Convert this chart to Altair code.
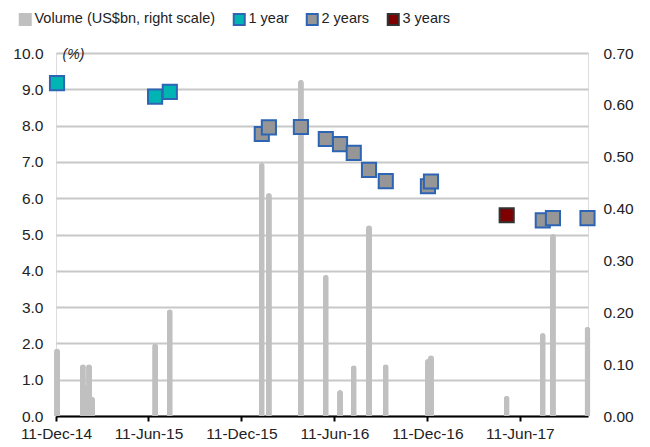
import altair as alt
import pandas as pd

# ---- data ----
dates = ["2014-12-13", "2015-02-02", "2015-02-06", "2015-02-14", "2015-02-20",
         "2015-06-24", "2015-07-23", "2016-01-20", "2016-02-03", "2016-04-06",
         "2016-05-25", "2016-06-22", "2016-07-19", "2016-08-18", "2016-09-20",
         "2016-12-12", "2016-12-18", "2017-05-16", "2017-07-26", "2017-08-15",
         "2017-10-22"]
volume = [0.13, 0.10, 0.06, 0.10, 0.037,
          0.14, 0.206, 0.488, 0.43, 0.648,
          0.272, 0.05, 0.098, 0.368, 0.10,
          0.11, 0.117, 0.039, 0.16, 0.351,
          0.172]
yields = [9.17, None, None, None, None,
          8.80, 8.93, 7.77, 7.95, 7.96,
          7.63, 7.49, 7.25, 6.78, 6.47,
          6.33, 6.46, 5.53, 5.39, 5.45,
          5.45]
tenor = ["1 year", None, None, None, None,
         "1 year", "1 year", "2 years", "2 years", "2 years",
         "2 years", "2 years", "2 years", "2 years", "2 years",
         "2 years", "2 years", "3 years", "2 years", "2 years",
         "2 years"]

legend_items = ["Volume (US$bn, right scale)", "1 year", "2 years", "3 years"]
fill_colors = ["#c0c0c0", "#00b4b4", "#969696", "#7f0000"]
stroke_colors = ["#c0c0c0", "#2e64b4", "#2e64b4", "#333333"]

x_ticks = [(2014, 12), (2015, 6), (2015, 12), (2016, 6), (2016, 12), (2017, 6)]

df = pd.DataFrame({"date": dates, "volume": volume, "yield": yields, "tenor": tenor})

FONT = "Liberation Sans"
TXT = "#222222"

x_enc = alt.X(
    "date:T",
    scale=alt.Scale(type="utc", padding=0,
                    domain=[alt.DateTime(year=2014, month=12, date=11, utc=True),
                            alt.DateTime(year=2017, month=10, date=23, utc=True)]),
    axis=alt.Axis(
        values=[alt.DateTime(year=y, month=m, date=11, utc=True) for y, m in x_ticks],
        labelExpr="utcFormat(datum.value, '%d-%b-%y')",
        title=None, grid=False,
        domainColor="#000000", domainWidth=2,
        tickColor="#000000", tickWidth=2, tickSize=5,
        labelPadding=5, labelFontSize=15.5, labelColor=TXT, labelFont=FONT,
        labelFlush=False, labelOverlap=False,
    ),
)

bars = alt.Chart(df).mark_bar(
    width=6, color="#c0c0c0", cornerRadiusTopLeft=3, cornerRadiusTopRight=3
).encode(
    x=x_enc,
    y=alt.Y("volume:Q",
            scale=alt.Scale(domain=[0, 0.7], nice=False),
            axis=alt.Axis(orient="right", values=[0, 0.1, 0.2, 0.3, 0.4, 0.5, 0.6, 0.7],
                          format=".2f", grid=False, domain=False, ticks=False,
                          labelPadding=15, labelFontSize=15.5, labelColor=TXT,
                          labelFont=FONT, title=None)),
)

legend_kw = dict(title=None, orient="none", direction="horizontal",
                 legendX=-38, legendY=-41, symbolType="square",
                 symbolSize=121, symbolStrokeWidth=2,
                 labelFontSize=14.5, labelFont=FONT, labelColor=TXT,
                 labelOffset=2, labelLimit=400, columnPadding=13, padding=0)

points = alt.Chart(df).transform_filter("isValid(datum.yield)").mark_point(
    shape="square", filled=True, size=200, strokeWidth=2, opacity=1
).encode(
    x=x_enc,
    y=alt.Y("yield:Q",
            scale=alt.Scale(domain=[0, 10], nice=False),
            axis=alt.Axis(orient="left", values=list(range(0, 11)), format=".1f",
                          grid=True, gridColor="#c8c8c8", gridWidth=2,
                          domain=False, ticks=False,
                          labelPadding=13, labelFontSize=15.5, labelColor=TXT,
                          labelFont=FONT,
                          title="(%)", titleAngle=0, titleX=17, titleY=1,
                          titleAlign="center", titleBaseline="middle",
                          titleFontStyle="italic", titleFontWeight="normal",
                          titleFontSize=14, titleFont=FONT, titleColor=TXT)),
    fill=alt.Fill("tenor:N",
                  scale=alt.Scale(domain=legend_items, range=fill_colors),
                  legend=alt.Legend(**legend_kw)),
    stroke=alt.Stroke("tenor:N",
                      scale=alt.Scale(domain=legend_items, range=stroke_colors),
                      legend=alt.Legend(**legend_kw)),
)

chart = alt.layer(bars, points).resolve_scale(y="independent").properties(
    width=532, height=363,
    autosize="none",
    padding={"left": 48, "top": 45, "right": 54, "bottom": 31},
).configure_view(stroke=None).configure(background="#ffffff")

chart.save("out.html", embed_options={"renderer": "svg", "actions": False})
